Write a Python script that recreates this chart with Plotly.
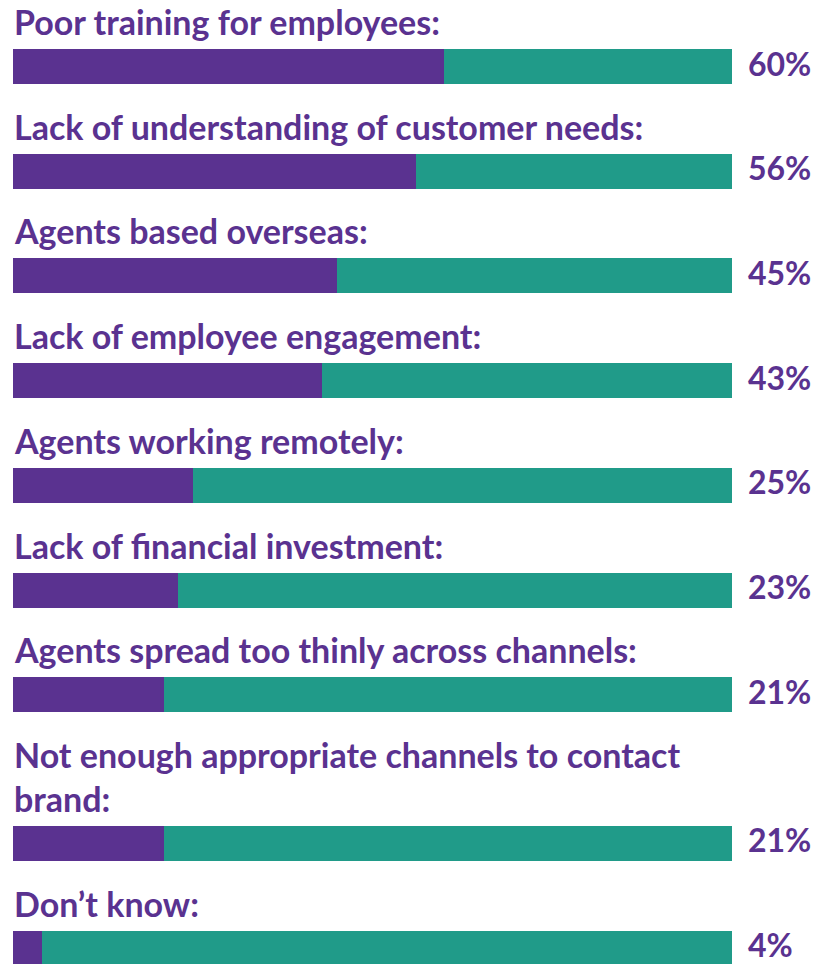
import plotly.graph_objects as go

categories = [
    "Poor training for employees:",
    "Lack of understanding of customer needs:",
    "Agents based overseas:",
    "Lack of employee engagement:",
    "Agents working remotely:",
    "Lack of financial investment:",
    "Agents spread too thinly across channels:",
    "Not enough appropriate channels to contact<br>brand:",
    "Don\u2019t know:",
]
values = [60, 56, 45, 43, 25, 23, 21, 21, 4]

PURPLE = "#5A3290"
TEAL = "#209B89"
FONT = "Lato"

W, H = 821, 964
X0, X1 = 13, 732          # pixel span of the 0-100 bars
BAR_H = 35
PITCH = 104.7
LINE_EXTRA = 44
FIRST_TOP = 49
VALUE_GAP_PX = 16
VALUE_DROP_PX = 1

# vertical layout: each row = label line(s) above a full-width bar
tops = []
extra = 0
for i, c in enumerate(categories):
    extra += LINE_EXTRA * c.count("<br>")
    tops.append(FIRST_TOP + i * PITCH + extra)
centers = [t + BAR_H / 2 for t in tops]
rest = [100 - v for v in values]

px_per_unit = (X1 - X0) / 100
x_max = (W - X0) / px_per_unit          # axis runs on to the right edge
value_x = 100 + VALUE_GAP_PX / px_per_unit

fig = go.Figure()
fig.add_trace(go.Bar(y=centers, x=values, orientation="h", width=BAR_H,
                     marker=dict(color=PURPLE, line=dict(width=0)),
                     hoverinfo="skip"))
fig.add_trace(go.Bar(y=centers, x=rest, orientation="h", width=BAR_H,
                     marker=dict(color=TEAL, line=dict(width=0)),
                     hoverinfo="skip"))
fig.add_trace(go.Scatter(
    x=[value_x] * len(values), y=[c + VALUE_DROP_PX for c in centers], mode="text",
    text=[f"{v}%" for v in values], textposition="middle right",
    textfont=dict(family=FONT, size=32, color=PURPLE, weight="bold"),
    hoverinfo="skip", cliponaxis=False,
))

annotations = []
for c, t in zip(categories, tops):
    annotations.append(dict(
        x=0, y=t - 5, xref="x", yref="y", text=c, showarrow=False,
        xanchor="left", yanchor="bottom", align="left", xshift=-1,
        font=dict(family=FONT, size=34, color=PURPLE, weight="bold"),
    ))

fig.update_layout(
    width=W, height=H, barmode="stack", showlegend=False,
    margin=dict(l=0, r=0, t=0, b=0),
    paper_bgcolor="white", plot_bgcolor="white",
    xaxis=dict(range=[0, x_max], domain=[X0 / W, 1], visible=False, fixedrange=True),
    yaxis=dict(range=[H, 0], domain=[0, 1], visible=False, fixedrange=True),
    bargap=0,
    annotations=annotations,
)

fig.write_html("out.html", config={"displayModeBar": False})
